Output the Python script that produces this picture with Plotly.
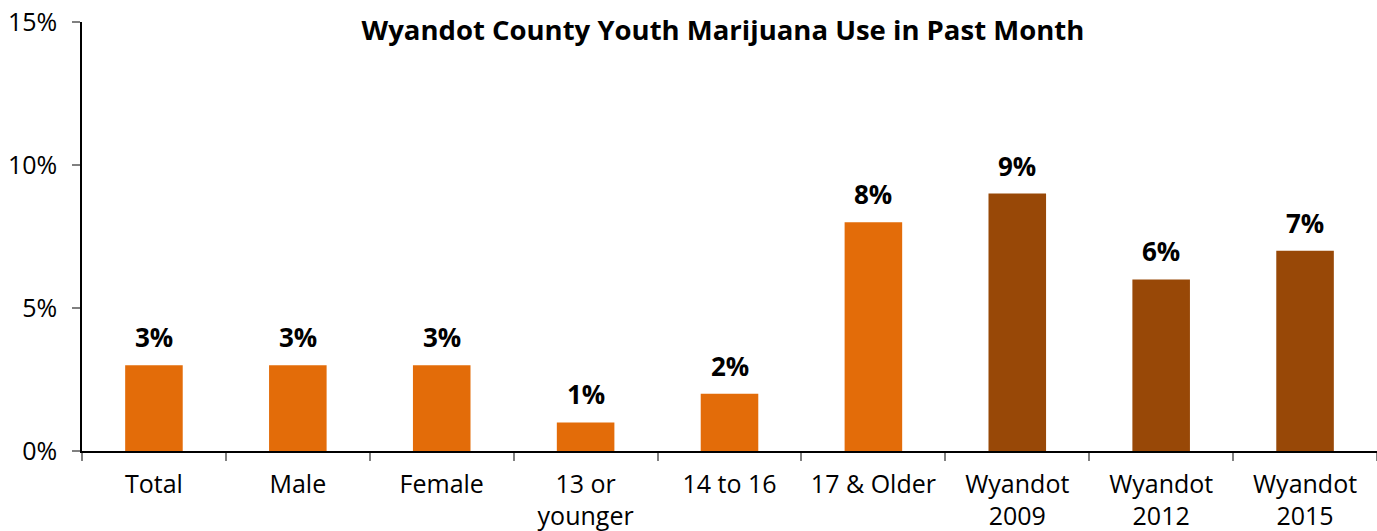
import plotly.graph_objects as go

categories = ["Total", "Male", "Female", "13 or<br>younger", "14 to 16", "17 &amp; Older",
              "Wyandot<br>2009", "Wyandot<br>2012", "Wyandot<br>2015"]
values = [3, 3, 3, 1, 2, 8, 9, 6, 7]
bar_colors = ["#E36C09"] * 6 + ["#984807"] * 3
y_ticks = [0, 5, 10, 15]
y_tick_labels = ["0%", "5%", "10%", "15%"]

font_family = "Open Sans, Noto Sans, sans-serif"

fig = go.Figure()
fig.add_trace(go.Bar(
    x=categories, y=values, marker=dict(color=bar_colors, line=dict(width=0)),
    width=0.4, hoverinfo="skip",
))

for c, v in zip(categories, values):
    fig.add_annotation(x=c, y=v, text=f"<b>{v}%</b>", showarrow=False,
                       yanchor="bottom", yshift=8,
                       font=dict(size=26, color="#000000", family=font_family))

fig.update_layout(
    width=1377, height=531,
    margin=dict(l=82, r=0, t=22, b=80, autoexpand=False),
    paper_bgcolor="white", plot_bgcolor="white",
    showlegend=False,
    bargap=0.6,
    title=dict(text="<b>Wyandot County Youth Marijuana Use in Past Month</b>",
               x=0.525, xanchor="center", y=0.943, yanchor="middle",
               font=dict(size=27.5, color="#000000", family=font_family)),
    font=dict(family=font_family, size=25, color="#000000"),
)
fig.update_xaxes(
    showline=True, linecolor="#000000", linewidth=1.5, automargin=False,
    ticks="outside", tickson="boundaries", ticklen=8, tickcolor="#808080", tickwidth=1.5,
    tickfont=dict(size=25, color="#000000"), showgrid=False,
    ticklabelstandoff=10, ticklabeloverflow="allow",
)
fig.update_yaxes(
    range=[0, 15], tickvals=y_ticks, ticktext=y_tick_labels, automargin=False,
    showline=True, linecolor="#000000", linewidth=1.5,
    ticks="outside", ticklen=8, tickcolor="#808080", tickwidth=1.5,
    tickfont=dict(size=25, color="#000000"), showgrid=False, zeroline=False,
    ticklabelstandoff=10, ticklabeloverflow="allow",
)

fig.write_html("out.html", config={"displayModeBar": False},
               post_script="document.body.style.margin='0';document.body.style.overflow='hidden';")
